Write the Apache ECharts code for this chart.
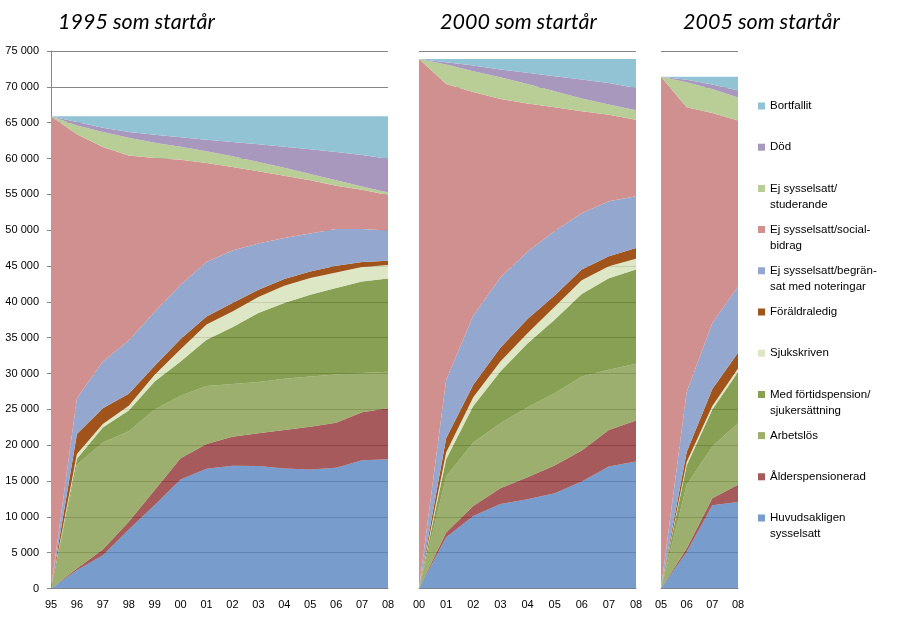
<!DOCTYPE html>
<html><head><meta charset="utf-8">
<script src="https://cdn.jsdelivr.net/npm/echarts@6/dist/echarts.min.js"></script>
<style>html,body{margin:0;padding:0;background:#fff}#c{width:901px;height:632px}</style>
</head><body><div id="c"></div>
<script>
// ---- categories ----
const years1995 = ['95','96','97','98','99','00','01','02','03','04','05','06','07','08'];
const years2000 = ['00','01','02','03','04','05','06','07','08'];
const years2005 = ['05','06','07','08'];
const yTicks = [0,5000,10000,15000,20000,25000,30000,35000,40000,45000,50000,55000,60000,65000,70000,75000];

// ---- series names (bottom to top) ----
const seriesNames = ['Huvudsakligen sysselsatt','Ålderspensionerad','Arbetslös','Med förtidspension/sjukersättning','Sjukskriven','Föräldraledig','Ej sysselsatt/begränsat med noteringar','Ej sysselsatt/socialbidrag','Ej sysselsatt/studerande','Död','Bortfallit'];
const legendLabels = ['Huvudsakligen\nsysselsatt','Ålderspensionerad','Arbetslös','Med förtidspension/\nsjukersättning','Sjukskriven','Föräldraledig','Ej sysselsatt/begrän-\nsat med noteringar','Ej sysselsatt/social-\nbidrag','Ej sysselsatt/\nstuderande','Död','Bortfallit'];
const titles = ['1995 som startår','2000 som startår','2005 som startår'];

// ---- 1995 start ----
const huvud95  = [0,2560,4650,8240,11640,15220,16710,17130,17080,16760,16620,16850,17880,18020];
const alder95  = [0,230,800,1070,2090,2950,3450,4050,4570,5350,5960,6290,6700,7120];
const arbets95 = [0,14510,14910,12640,11230,8730,8090,7340,7150,7160,6990,6730,5500,5110];
const fortid95 = [0,800,2100,2880,3920,4780,6450,7950,9630,10550,11420,12050,12770,12990];
const sjuk95   = [0,680,510,660,935,1720,2150,2190,2230,2420,2330,2180,2000,1890];
const foral95  = [0,2770,2190,1670,1255,1400,1100,1160,1030,935,925,940,700,605];
const begr95   = [0,5010,6520,7450,7530,7600,7620,7330,6460,5725,5305,5110,4600,4235];
const social95 = [65900,36820,29930,25810,21470,17440,13805,11670,10060,8700,7400,6060,5480,4930];
const stud95   = [0,1220,2090,2480,2130,1810,1625,1480,1290,1100,900,740,470,350];
const dod95    = [0,500,600,800,1100,1300,1600,2000,2500,2950,3450,3950,4400,4700];
const bort95   = [0,800,1600,2200,2600,2950,3300,3600,3900,4250,4600,5000,5400,5950];

// ---- 2000 start ----
const huvud00  = [0,7150,10120,11800,12450,13290,14920,17020,17710];
const alder00  = [0,650,1400,2190,3080,3860,4330,5110,5730];
const arbets00 = [0,7820,8850,9080,9770,10110,10330,8380,7910];
const fortid00 = [0,2420,5110,7200,8900,10240,11520,12790,13150];
const sjuk00   = [0,930,1220,1410,1400,1800,1900,1650,1500];
const foral00  = [0,2000,1720,1920,2000,1600,1500,1400,1500];
const begr00   = [0,8130,9680,9800,9400,9000,7850,7670,7220];
const social00 = [73900,41310,31190,24910,20660,17250,14240,12100,10700];
const stud00   = [0,2700,2890,3030,2750,2240,1770,1400,1310];
const dod00    = [0,320,790,1070,1540,2090,2660,3030,3120];
const bort00   = [0,470,930,1490,1950,2420,2880,3350,4050];

// ---- 2005 start ----
const huvud05  = [0,5080,11600,12080];
const alder05  = [0,500,990,2390];
const arbets05 = [0,8890,7210,8630];
const fortid05 = [0,2690,5170,7100];
const sjuk05   = [0,500,510,510];
const foral05  = [0,1370,2340,2180];
const begr05   = [0,8380,9230,9240];
const social05 = [71400,39740,29300,23170];
const stud05   = [0,3500,3360,3200];
const dod05    = [0,350,600,1000];
const bort05   = [0,400,1090,1900];

// ---- styles ----
const shownColors = ['#789CCB','#A65A5B','#9CAF6E','#87A053','#DDE7C5','#A0541B','#94A8CF','#D19090','#B9CE96','#A898BD','#92C3D4'];
const fillColors  = ['#5683BE','#903132','#839B4A','#698828','#D5E1B7','#A0541B','#94A8CF','#D19090','#B9CE96','#A898BD','#92C3D4'];
const fillOpacity = [0.8,0.8,0.8,0.8,0.8,1,1,1,1,1,1];

const panels = [
  {cats: years1995, vals: [huvud95,alder95,arbets95,fortid95,sjuk95,foral95,begr95,social95,stud95,dod95,bort95]},
  {cats: years2000, vals: [huvud00,alder00,arbets00,fortid00,sjuk00,foral00,begr00,social00,stud00,dod00,bort00]},
  {cats: years2005, vals: [huvud05,alder05,arbets05,fortid05,sjuk05,foral05,begr05,social05,stud05,dod05,bort05]}
];
const gridLefts = [51, 419, 661];
const gridWidths = [337, 217, 77];
const titleLefts = [58, 440, 683];

const fmt = v => { const s = String(v); return s.length > 3 ? s.slice(0, s.length-3) + ' ' + s.slice(-3) : s; };
const axisGray = '#868686';
const font = 'Liberation Sans, Arial, sans-serif';

const grid = [], xAxis = [], yAxis = [], series = [], title = [];
panels.forEach((p, i) => {
  grid.push({left: gridLefts[i], width: gridWidths[i], top: 51, height: 537.5, containLabel: false});
  title.push({text: titles[i], left: titleLefts[i], top: 11, padding: 0,
    textStyle: {fontFamily: 'Lato, Calibri, sans-serif', fontStyle: 'italic', fontWeight: 'normal', fontSize: 21.5, color: '#000'}});
  xAxis.push({type: 'category', gridIndex: i, data: p.cats, boundaryGap: false,
    axisLine: {lineStyle: {color: axisGray, width: 1}}, axisTick: {show: false},
    axisLabel: {interval: 0, margin: 11, fontSize: 11, fontFamily: font, color: '#000'},
    splitLine: {show: false}});
  yAxis.push({type: 'value', gridIndex: i, min: 0, max: 75000, interval: 5000,
    axisLine: {show: i === 0, lineStyle: {color: axisGray, width: 1}},
    axisTick: {show: i === 0, length: 4, lineStyle: {color: axisGray}},
    axisLabel: {show: i === 0, margin: 12, fontSize: 11, fontFamily: font, color: '#000', formatter: v => fmt(v)},
    splitLine: {show: true, lineStyle: {color: axisGray, width: 1}}});
  p.vals.forEach((arr, s) => {
    series.push({type: 'line', name: seriesNames[s], xAxisIndex: i, yAxisIndex: i, stack: 'panel' + i,
      data: arr, symbol: 'none', showSymbol: false, silent: true,
      lineStyle: {width: 0, color: shownColors[s]},
      itemStyle: {color: shownColors[s]},
      areaStyle: {color: fillColors[s], opacity: fillOpacity[s]}});
  });
});

const legendOrder = [10,9,8,7,6,5,4,3,2,1,0];
const legend = legendOrder.map((s, k) => {
  const two = legendLabels[s].indexOf('\n') >= 0;
  return {
    left: 758, top: 98 + k * 41.2, orient: 'vertical', padding: 0, itemGap: 0,
    itemWidth: 7, itemHeight: two ? 23 : 7,
    icon: two ? 'path://M0,0L7,0L7,7L0,7Z M0,23L0.01,23' : 'rect',
    itemStyle: {borderWidth: 0},
    selectedMode: false,
    data: [seriesNames[s]],
    formatter: () => legendLabels[s],
    textStyle: {fontFamily: font, fontSize: 11.5, color: '#000', lineHeight: 16}
  };
});

const chart = echarts.init(document.getElementById('c'), null, {renderer: 'canvas'});
chart.setOption({backgroundColor: '#fff', animation: false, title, grid, xAxis, yAxis, series, legend});
</script></body></html>
